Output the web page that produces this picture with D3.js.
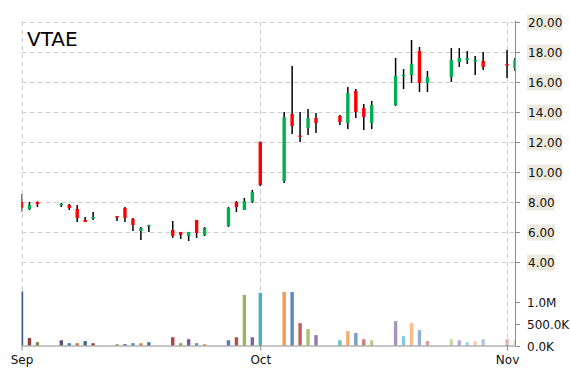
<!DOCTYPE html>
<html>
<head>
<meta charset="utf-8">
<script src="https://cdn.jsdelivr.net/npm/d3@7/dist/d3.min.js"></script>
<style>
  body { margin: 0; background: #fff; }
</style>
</head>
<body>
<div id="stock-chart"></div>
<script>

// Data (one entry per trading day)
var dates = ["2015-09-01","2015-09-02","2015-09-03","2015-09-06","2015-09-07","2015-09-08","2015-09-09","2015-09-10",
    "2015-09-13","2015-09-14","2015-09-15","2015-09-16","2015-09-17","2015-09-20","2015-09-21","2015-09-22",
    "2015-09-23","2015-09-24","2015-09-27","2015-09-28","2015-09-29","2015-09-30","2015-10-01","2015-10-04",
    "2015-10-05","2015-10-06","2015-10-07","2015-10-08","2015-10-11","2015-10-12","2015-10-13","2015-10-14",
    "2015-10-15","2015-10-18","2015-10-19","2015-10-20","2015-10-21","2015-10-22","2015-10-25","2015-10-26",
    "2015-10-27","2015-10-28","2015-10-29","2015-11-01","2015-11-02"];
var opens  = [7.97,7.50,7.97,7.83,7.77,7.50,6.77,6.95,7.03,7.57,6.83,6.03,6.40,6.10,5.97,5.70,6.77,5.77,6.37,7.97,7.43,7.97,11.97,9.37,
    13.83,12.40,12.90,13.57,13.70,13.23,15.37,14.23,13.23,14.43,16.38,16.43,18.03,15.90,16.30,17.30,17.43,17.40,17.37,17.17,16.90];
var highs  = [8.50,7.97,8.00,7.90,7.83,7.77,6.97,7.30,7.03,7.63,6.90,6.30,6.45,6.70,5.97,5.97,6.77,6.30,7.63,8.03,8.23,8.77,12.00,13.97,
    17.03,13.97,14.17,13.90,13.77,15.63,15.50,14.50,14.70,17.57,16.83,18.77,18.30,16.70,18.23,18.23,18.03,17.70,17.97,18.10,17.57];
var lows   = [7.32,7.43,7.63,7.63,7.43,6.63,6.63,6.77,6.70,6.63,6.03,5.43,5.97,5.57,5.50,5.37,5.57,5.70,6.30,7.30,7.43,7.90,9.03,9.23,
    12.50,11.97,12.43,12.57,13.10,12.83,13.57,12.77,12.83,14.37,15.50,15.90,15.30,15.30,15.97,16.97,17.17,16.43,16.77,16.23,16.70];
var closes = [7.59,7.77,7.83,7.85,7.57,6.90,6.63,6.97,6.97,6.90,6.43,6.23,6.43,5.70,5.77,5.97,5.90,6.23,7.57,7.63,8.03,8.63,9.10,13.63,
    13.03,12.34,13.57,13.23,13.30,15.23,13.97,13.63,14.43,16.37,16.45,17.17,15.90,16.30,17.43,17.57,17.57,17.43,16.97,17.07,17.43];
var volumes = [1240000,170000,76000,120000,53000,53000,100000,53000,30000,30000,53000,53000,76000,190000,53000,145000,53000,30000,
    120000,190000,1160000,190000,1210000,1230000,1230000,515000,376000,238000,120000,330000,284000,145000,120000,560000,215000,
    515000,353000,100000,145000,120000,76000,100000,145000,145000,120000];

var priceTicks = [4, 6, 8, 10, 12, 14, 16, 18, 20];
var volumeTicks = [0, 500000, 1000000];
var barPalette = ["#4F81BD", "#C0504D", "#9BBB59", "#8064A2", "#4BACC6", "#F79646"];
var symbol = "VTAE";

var drawChart = function(){

    // Size & layout
    const width = 570;
    const height = 370;
    const left = 21.5;
    const right = 515;
    const priceTop = 21.5;
    const priceBottom = 261.5;
    const volTop = 291.5;
    const volBottom = 345.5;

    // Style
    var fontFamily = '"DejaVu Sans", sans-serif';
    var fontSize = 12;
    var axisColor = "#8c8c8c";
    var gridColor = "#d0d0d0";
    var upColor = "#00b050";
    var downColor = "#ff0000";
    var labelBg = "#ece9dd";
    var bodyWidth = 3.4;
    var barWidth = 3.4;

    var parse = d3.timeParse("%Y-%m-%d");
    var data = dates.map(function(d, i){
        return {date: parse(d), open: opens[i], high: highs[i], low: lows[i], close: closes[i], vol: volumes[i]};
    });

    var svg = d3.select("#stock-chart")
        .append("svg")
        .attr("width", width)
        .attr("height", height)
        .style("font-family", fontFamily);

    svg.append("clipPath").attr("id", "plot-clip")
        .append("rect")
        .attr("x", left).attr("y", 0)
        .attr("width", right - left).attr("height", height);

    // Scales
    var x = d3.scaleTime()
        .domain(d3.extent(data, d => d.date))
        .range([left, right]);
    var y = d3.scaleLinear()
        .domain([4, 20])
        .range([priceBottom, priceTop]);
    var yVol = d3.scaleLinear()
        .domain([0, d3.max(volumes)])
        .range([volBottom, volTop]);

    var months = x.ticks(d3.timeMonth.every(1));

    // Grid lines
    var grid = svg.append("g")
        .attr("stroke", gridColor)
        .attr("stroke-dasharray", "5,3");
    grid.selectAll(".hgrid")
        .data(priceTicks)
        .join("line")
        .attr("class", "hgrid")
        .attr("x1", left).attr("x2", right)
        .attr("y1", d => Math.round(y(d)) + 0.5)
        .attr("y2", d => Math.round(y(d)) + 0.5);
    grid.selectAll(".vgrid")
        .data(months)
        .join("line")
        .attr("class", "vgrid")
        .attr("x1", d => Math.round(x(d)) + 0.5)
        .attr("x2", d => Math.round(x(d)) + 0.5)
        .attr("y1", priceTop).attr("y2", volBottom);

    var plot = svg.append("g").attr("clip-path", "url(#plot-clip)");

    // Volume bars, colour cycles and fades from dark to pale
    var fade = function(c, t){
        var base = d3.rgb(c);
        var ramp = d3.piecewise(d3.interpolateRgb, [base.darker(0.9), base, d3.interpolateRgb(base, "#fff")(0.6)]);
        return ramp(t);
    };
    plot.append("g").selectAll("rect")
        .data(data)
        .join("rect")
        .attr("x", d => x(d.date) - barWidth / 2)
        .attr("width", barWidth)
        .attr("y", d => yVol(d.vol))
        .attr("height", d => volBottom - yVol(d.vol))
        .attr("fill", (d, i) => fade(barPalette[i % barPalette.length], i / (data.length - 1)));

    // Candles
    var candles = plot.append("g").selectAll("g")
        .data(data)
        .join("g");
    candles.append("line")
        .attr("x1", d => x(d.date)).attr("x2", d => x(d.date))
        .attr("y1", d => y(d.high)).attr("y2", d => y(d.low))
        .attr("stroke", "#000")
        .attr("stroke-width", 1.5);
    candles.append("rect")
        .attr("x", d => x(d.date) - bodyWidth / 2)
        .attr("width", bodyWidth)
        .attr("y", d => y(Math.max(d.open, d.close)))
        .attr("height", d => Math.max(1.5, Math.abs(y(d.open) - y(d.close))))
        .attr("fill", d => d.close >= d.open ? upColor : downColor);

    // Bottom axis
    var xAxis = svg.append("g")
        .attr("transform", "translate(0," + volBottom + ")")
        .call(d3.axisBottom(x).tickValues(months).tickFormat(d3.timeFormat("%b")).tickSize(5).tickPadding(5).tickSizeOuter(0));
    xAxis.select(".domain").attr("stroke", axisColor);
    xAxis.selectAll(".tick line").attr("stroke", axisColor);
    xAxis.selectAll(".tick text").attr("fill", "#111").attr("font-size", fontSize).attr("font-family", fontFamily);

    // Right axis line
    svg.append("line")
        .attr("x1", right + 0.5).attr("x2", right + 0.5)
        .attr("y1", priceTop - 0.5).attr("y2", volBottom)
        .attr("stroke", axisColor);

    // Price axis with shaded labels
    var pAxis = svg.append("g").selectAll("g")
        .data(priceTicks)
        .join("g")
        .attr("transform", d => "translate(0," + (Math.round(y(d)) + 0.5) + ")");
    pAxis.append("line")
        .attr("x1", right).attr("x2", right + 5)
        .attr("stroke", axisColor);
    pAxis.append("text")
        .attr("x", 528).attr("y", 4.5)
        .attr("font-size", fontSize)
        .attr("fill", "#111")
        .text(d => d.toFixed(2))
        .each(function(){
            var b = this.getBBox();
            d3.select(this.parentNode).insert("rect", "text")
                .attr("x", b.x - 1).attr("y", -8)
                .attr("width", b.width + 1).attr("height", 16)
                .attr("fill", labelBg);
        });

    // Volume axis
    var volFormat = function(v){
        return v >= 1000000 ? (v / 1000000).toFixed(1) + "M" : (v / 1000).toFixed(1) + "K";
    };
    var vAxis = svg.append("g").selectAll("g")
        .data(volumeTicks)
        .join("g")
        .attr("transform", d => "translate(0," + (Math.round(yVol(d)) + 0.5) + ")");
    vAxis.append("line")
        .attr("x1", right).attr("x2", right + 5)
        .attr("stroke", axisColor);
    vAxis.append("text")
        .attr("x", 527).attr("y", 4.5)
        .attr("font-size", fontSize)
        .attr("fill", "#111")
        .text(volFormat);

    // Title
    svg.append("text")
        .attr("x", 27).attr("y", 46)
        .attr("font-size", 20)
        .attr("fill", "#000")
        .text(symbol);
}

window.addEventListener("load", drawChart)
</script>
</body>
</html>
